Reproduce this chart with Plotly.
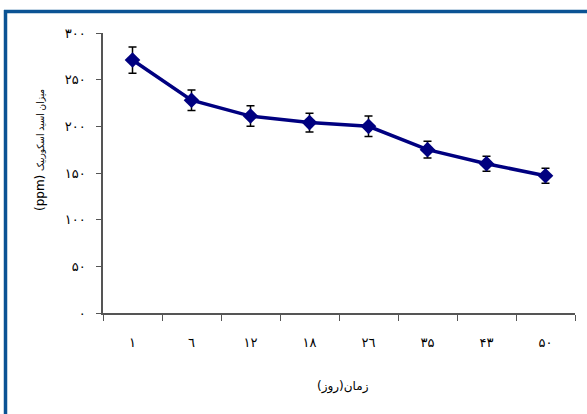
import plotly.graph_objects as go

# Storage time (days) and ascorbic acid content
days = ["١", "٦", "١٢", "١٨", "٢٦", "٣۵", "۴٣", "۵٠"]
ascorbic = [271, 228, 211, 204, 200, 175, 160, 147]
errors = [14, 11, 11, 10, 11, 9, 8, 8]

y_ticks = [0, 50, 100, 150, 200, 250, 300]
y_tick_text = ["٠", "۵٠", "١٠٠", "١۵٠", "٢٠٠", "٢۵٠", "٣٠٠"]

font_family = "DejaVu Sans"

fig = go.Figure()
fig.add_trace(go.Scatter(
    x=days,
    y=ascorbic,
    mode="lines+markers",
    line=dict(color="#000080", width=3.5),
    marker=dict(symbol="diamond", size=12, color="#000080"),
    error_y=dict(type="data", array=errors, visible=True,
                 color="black", thickness=1.5, width=4),
    showlegend=False,
))

fig.update_layout(
    width=587, height=414,
    margin=dict(l=103, r=12, t=33, b=101),
    paper_bgcolor="white",
    plot_bgcolor="white",
    font=dict(family=font_family, size=11, color="black"),
    xaxis=dict(
        type="category",
        range=[-0.5, 7.5],
        tickson="boundaries",
        ticks="outside", ticklen=6, tickcolor="#555555", tickwidth=1,
        ticklabelstandoff=17,
        showline=True, linecolor="#555555", linewidth=1.5,
        showgrid=False, zeroline=False,
        tickfont=dict(size=13, family=font_family),
    ),
    yaxis=dict(
        range=[0, 300],
        tickvals=y_ticks, ticktext=y_tick_text,
        ticks="outside", ticklen=5, tickcolor="#555555", tickwidth=1,
        ticklabelstandoff=8,
        showline=True, linecolor="#555555", linewidth=1.5,
        showgrid=False, zeroline=False,
        tickfont=dict(size=13, family=font_family),
    ),
    annotations=[
        dict(text="(ppm) <span style='font-family:DejaVu Sans Condensed;font-size:10px'>میزان اسید اسکوربیک</span>",
             xref="paper", yref="paper",
             x=(40 - 103) / 472, y=(313 - 150) / 280, textangle=-90,
             showarrow=False, font=dict(size=12, family=font_family),
             xanchor="center", yanchor="middle"),
        dict(text="زمان(روز)", xref="paper", yref="paper",
             x=(343 - 103) / 472, y=(313 - 386) / 280,
             showarrow=False, font=dict(size=12, family=font_family),
             xanchor="center", yanchor="middle"),
    ],
    shapes=[
        # frame edges along the top and left of the figure
        dict(type="line", xref="paper", yref="paper",
             x0=(4 - 103) / 472, x1=(590 - 103) / 472,
             y0=(313 - 11.5) / 280, y1=(313 - 11.5) / 280,
             line=dict(color="#0b5394", width=3.5)),
        dict(type="line", xref="paper", yref="paper",
             x0=(5.5 - 103) / 472, x1=(5.5 - 103) / 472,
             y0=(313 - 10) / 280, y1=(313 - 420) / 280,
             line=dict(color="#0b5394", width=3.5)),
    ],
)

fig.write_html("out.html")
